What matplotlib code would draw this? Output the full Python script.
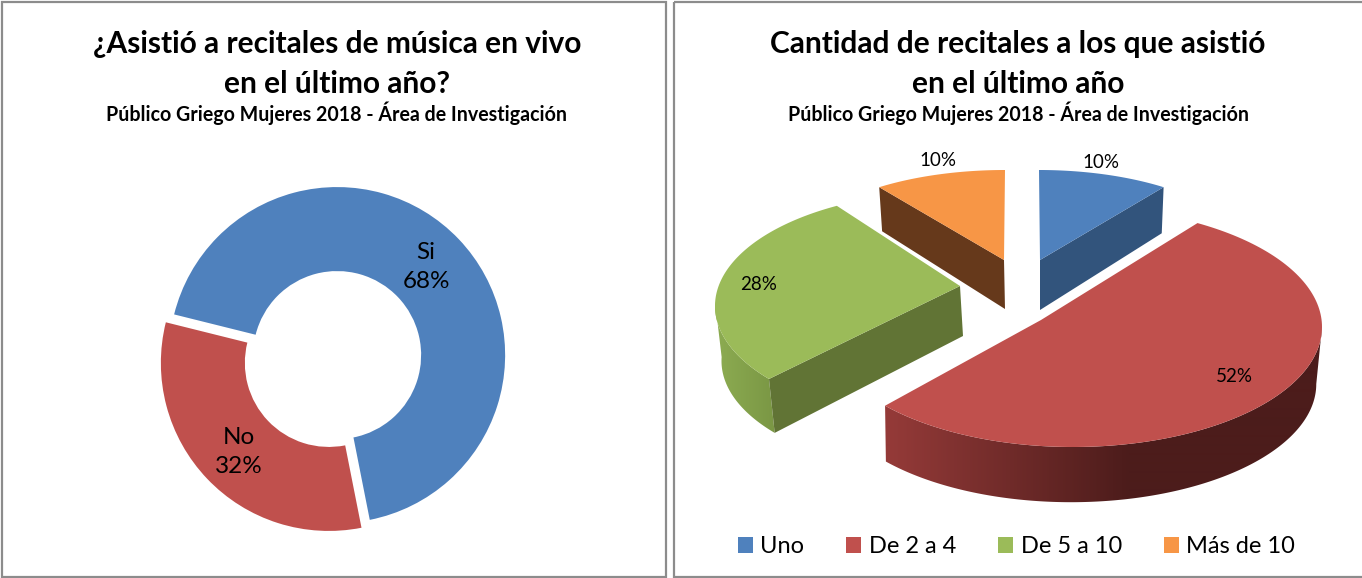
import numpy as np
import matplotlib
matplotlib.use("Agg")
import matplotlib.pyplot as plt
from matplotlib.patches import Polygon, Rectangle
from matplotlib.colors import LinearSegmentedColormap

# ---------- data ----------
donut_labels = ["Si", "No"]
donut_values = [68, 32]
donut_colors = ["#4F81BD", "#C0504D"]
pie_labels = ["Uno", "De 2 a 4", "De 5 a 10", "Más de 10"]
pie_values = [10, 52, 28, 10]
pie_colors = ["#4F81BD", "#C0504D", "#9BBB59", "#F79646"]
left_title = ["¿Asistió a recitales de música en vivo", "en el último año?"]
right_title = ["Cantidad de recitales a los que asistió", "en el último año"]
subtitle = "Público Griego Mujeres 2018 - Área de Investigación"

plt.rcParams['font.family'] = ['Lato', 'DejaVu Sans']
W, H = 1362, 578
fig = plt.figure(figsize=(W / 100, H / 100), dpi=100, facecolor="white")
ax = fig.add_axes([0, 0, 1, 1])
ax.set_xlim(0, W); ax.set_ylim(H, 0); ax.axis("off")
ax.set_zorder(3)

# panels
for x0, x1 in [(2, 666), (674, 1368)]:
    ax.add_patch(Rectangle((x0, 1.5), x1 - x0, 575, fill=False, ec="#8c8c8c", lw=1.6, zorder=0))

# titles
for cx, lines in [(337, left_title), (1018, right_title)]:
    ax.text(cx, 44, lines[0], ha="center", va="center", fontsize=21.5, fontweight="bold", color="#000000")
    ax.text(cx, 84, lines[1], ha="center", va="center", fontsize=21.5, fontweight="bold", color="#000000")
    ax.text(cx, 113, subtitle, ha="center", va="center", fontsize=14.1, fontweight="bold", color="#000000")

# ---------- donut ----------
R_px = 168
lim = 1.15
size = 2 * lim * R_px
ax_d = fig.add_axes([(333 - size / 2) / W, 1 - (359 + size / 2) / H, size / W, size / H])
ax_d.pie(donut_values, colors=donut_colors, explode=[0.034, 0.034], startangle=166, counterclock=False,
         radius=1, wedgeprops=dict(width=(168 - 84) / 168, linewidth=0))
ax_d.set_xlim(-lim, lim); ax_d.set_ylim(-lim, lim)
for (lx, ly), n, v in zip([(426, 267), (239, 452)], donut_labels, donut_values):
    ax.text(lx, ly, f"{n}\n{v}%", ha="center", va="center", fontsize=17.5, linespacing=1.5, color="#000000", zorder=5)

# ---------- exploded 3D pie ----------
# per-slice geometry in panel pixels: centre of the top ellipse, axes, apex,
# shift of the bottom ellipse, depth at the apex, angle warp at both ends
geo = {
    0: dict(c=(1039, 260), a=212, b=90, apex=(1040, 260), warp=(0, 0), dc=(0, 45), ad=50, s=0.985),
    1: dict(c=(1073, 327), a=249, b=120, apex=(1041, 320), warp=(-6, 5.8), dc=(-2, 57), ad=56, s=0.985),
    2: dict(c=(948, 306), a=233, b=114, apex=(960, 286), warp=(7, 7.5), dc=(3, 55), ad=50, s=0.985),
    3: dict(c=(1005, 260), a=214, b=90, apex=(1004, 260), warp=(0, 0), dc=(1, 43), ad=49, s=0.985),
}
face_dark = ["#32547C", None, "#617435", "#66391B"]
edges = np.cumsum([0] + pie_values) / sum(pie_values) * 360


def pt(g, th, bottom=False):
    th = np.radians(th)
    s = g["s"] if bottom else 1
    cx = g["c"][0] + (g["dc"][0] if bottom else 0)
    cy = g["c"][1] + (g["dc"][1] if bottom else 0)
    return np.column_stack([cx + s * g["a"] * np.sin(th), cy - s * g["b"] * np.cos(th)])


def one(g, th, bottom=False):
    return pt(g, np.array([th]), bottom)[0]


def gradient_wall(g, a, b, x0, x1, c0, c1, z):
    ths = np.linspace(a, b, 200)
    poly = Polygon(np.vstack([pt(g, ths), pt(g, ths[::-1], True)]), fc="none", ec="none", zorder=z)
    ax.add_patch(poly)
    cmap = LinearSegmentedColormap.from_list("w", [c0, c1])
    xs = np.clip((np.arange(W) + 0.5 - x0) / (x1 - x0), 0, 1)[None, :]
    im = ax.imshow(xs, cmap=cmap, vmin=0, vmax=1, extent=(0, W, H, 0), aspect="auto", zorder=z, interpolation="bilinear")
    im.set_clip_path(poly)
    ax.set_xlim(0, W); ax.set_ylim(H, 0)


for i in [3, 0, 2, 1]:
    g = geo[i]
    t0 = edges[i] + g["warp"][0]
    t1 = edges[i + 1] + g["warp"][1]
    top = pt(g, np.linspace(t0, t1, 160))
    alow = (g["apex"][0] + (g["dc"][0] if i else 0), g["apex"][1] + g["ad"])
    if i != 1:
        end = {0: t1, 2: t0, 3: t0}[i]
        ax.add_patch(Polygon([g["apex"], one(g, end), one(g, end, True), alow], fc=face_dark[i], ec="none", zorder=2 + i / 10))
    if i == 1:
        gradient_wall(g, 90, t1, 890, 1130, "#943A38", "#4C1C1B", 3)
    if i == 2:
        gradient_wall(g, t0, 272, 772, 718, "#7B9845", "#8CAB51", 2.1)
    ax.add_patch(Polygon(np.vstack([[g["apex"]], top]), fc=pie_colors[i], ec="none", zorder=4))

for (lx, ly), v in zip([(1101, 163), (1234, 377), (759, 284), (938, 160)], pie_values):
    ax.text(lx, ly, f"{v}%", ha="center", va="center", fontsize=13.5, color="#000000", zorder=6)

handles = [Rectangle((0, 0), 1, 1, fc=c, ec="none") for c in pie_colors]
ax.legend(handles, pie_labels, ncol=4, loc="center", bbox_to_anchor=(1016.5 / W, 1 - 546.5 / H),
          bbox_transform=fig.transFigure, frameon=False, fontsize=17, handlelength=0.64, handleheight=0.64,
          handletextpad=0.3, columnspacing=1.8, borderpad=0)

fig.savefig("out.png", dpi=100, facecolor="white")
